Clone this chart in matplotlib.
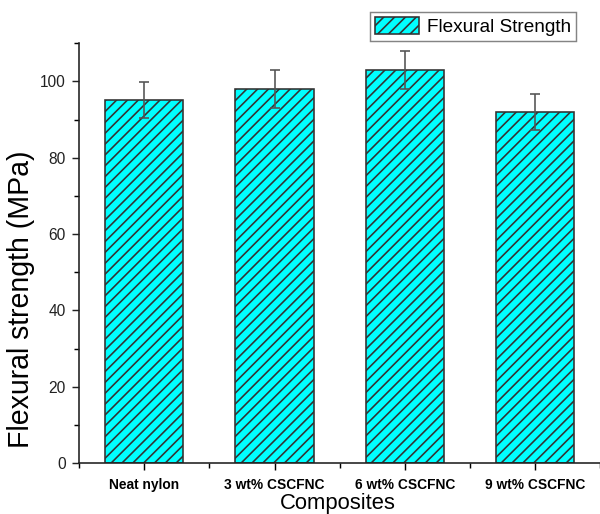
import numpy as np
import matplotlib
matplotlib.use("Agg")
import matplotlib.pyplot as plt
from matplotlib.ticker import MultipleLocator

plt.rcParams["font.family"] = ["Liberation Sans", "DejaVu Sans"]
plt.rcParams["hatch.linewidth"] = 0.9

# flexural strength of each composite (MPa) and its error
samples = ["Neat nylon", "3 wt% CSCFNC", "6 wt% CSCFNC", "9 wt% CSCFNC"]
strength = [95, 98, 103, 92]
strength_err = [4.7, 5.0, 5.0, 4.7]

dpi = 130
fig = plt.figure(figsize=(600 / dpi, 514 / dpi), dpi=dpi)
ax = fig.add_axes([0.132, 0.099, 0.868, 0.817])

x = np.arange(len(samples))
ax.bar(x, strength, width=0.6, color="#00ffff", edgecolor="#333333",
       linewidth=0.9, hatch="////", label="Flexural Strength", zorder=2)
ax.errorbar(x, strength, yerr=strength_err, fmt="none", ecolor="#555555",
            elinewidth=0.9, capsize=2.5, capthick=0.9, zorder=3)

ax.set_xlim(-0.5, 3.5)
ax.set_ylim(0, 110)
ax.set_xticks(x)
ax.set_xticklabels(samples, fontsize=7.6, fontweight="bold")
ax.xaxis.set_minor_locator(MultipleLocator(0.5))
ax.yaxis.set_major_locator(MultipleLocator(20))
ax.yaxis.set_minor_locator(MultipleLocator(10))
ax.tick_params(axis="y", labelsize=8.6, colors="#222222", length=4, width=0.8)
ax.tick_params(axis="x", length=4, width=0.8, pad=4)
ax.tick_params(which="minor", length=2.5, width=0.8)

for side in ["top", "right"]:
    ax.spines[side].set_visible(False)
for side in ["left", "bottom"]:
    ax.spines[side].set_linewidth(0.9)
    ax.spines[side].set_color("#222222")

ax.set_ylabel("Flexural strength (MPa)", fontsize=15.8)
ax.yaxis.set_label_coords(-0.084, 0.39)
ax.set_xlabel("Composites", fontsize=12.2)
ax.xaxis.set_label_coords(0.497, -0.071)

leg = fig.legend(loc="upper right", bbox_to_anchor=(0.96, 0.977),
                 borderaxespad=0, fontsize=10.5, frameon=True, fancybox=False,
                 handlelength=2.3, handleheight=1.0, borderpad=0.28,
                 handletextpad=0.4)
leg.get_frame().set_edgecolor("#666666")
leg.get_frame().set_linewidth(0.8)

fig.savefig("out.png", dpi=dpi)
